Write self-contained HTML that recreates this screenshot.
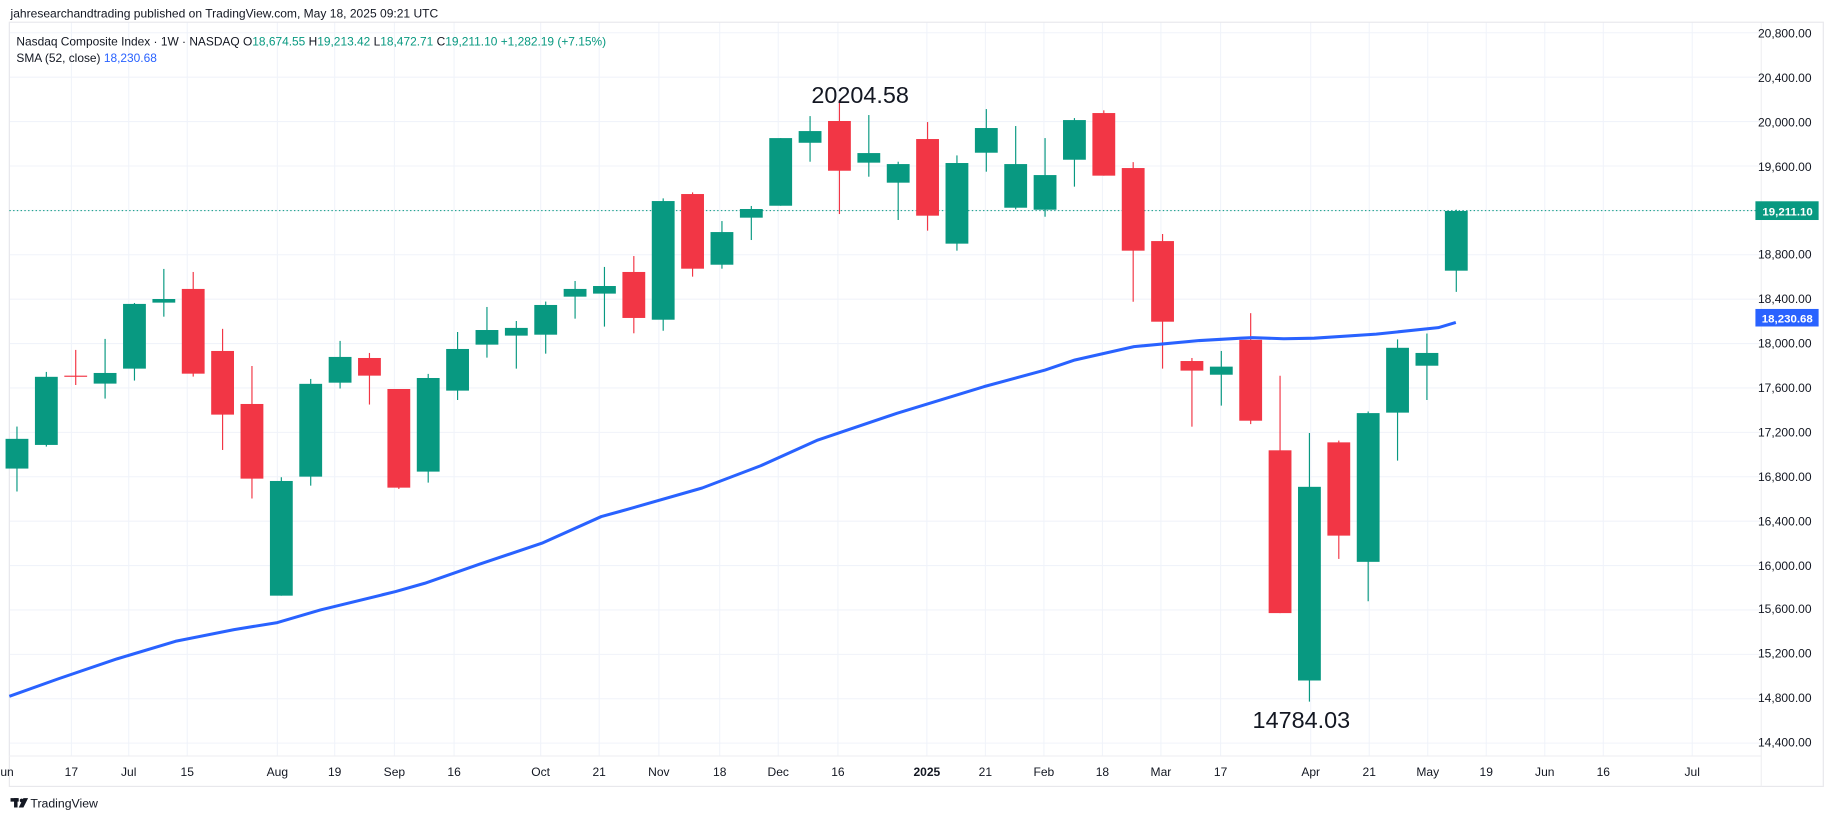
<!DOCTYPE html>
<html><head><meta charset="utf-8"><style>
html,body{margin:0;padding:0;background:#fff;}
svg{display:block;font-family:"Liberation Sans","DejaVu Sans",sans-serif;}
</style></head><body>
<svg id="s" width="1835" height="820" viewBox="0 0 1568 700.7" preserveAspectRatio="none" xmlns="http://www.w3.org/2000/svg">
<rect x="0" y="0" width="1568" height="701" fill="#fff"/>
<g id="grid" stroke="#f0f3fa" stroke-width="0.9"></g>
<rect x="8" y="19" width="1550" height="653" fill="none" stroke="#e8e8ec" stroke-width="1"/>
<line x1="1505" y1="19" x2="1505" y2="672" stroke="#f0f0f3" stroke-width="1"/>
<line x1="8" y1="646" x2="1505" y2="646" stroke="#f0f0f3" stroke-width="1"/>
<line x1="8" y1="180" x2="1505" y2="180" stroke="#089981" stroke-width="0.9" stroke-dasharray="1.2,2"/>
<g id="candles"></g>
<polyline fill="none" stroke="#2962ff" stroke-width="2.6" stroke-linejoin="round" points="8,595 50,580 100,563 150,548 200,538 237,532 273.8,521.2 338,505.5 363,498.4 410,482 463,464.2 513.8,441.4 530,437 600,417 650,398 698.8,376 766.4,353.2 840.8,330.4 893,316.2 918.5,307.6 969,296.2 1025,291 1060,289 1070,288.5 1097,289.5 1123,289 1176,285.5 1229,280 1244,275.5"/>
<g font-size="10.3" fill="#131722" text-anchor="end">
<text x="1548" y="32">20,800.00</text><text x="1548" y="70">20,400.00</text><text x="1548" y="108">20,000.00</text><text x="1548" y="146">19,600.00</text><text x="1548" y="221">18,800.00</text><text x="1548" y="259">18,400.00</text><text x="1548" y="297">18,000.00</text><text x="1548" y="335">17,600.00</text><text x="1548" y="373">17,200.00</text><text x="1548" y="411">16,800.00</text><text x="1548" y="449">16,400.00</text><text x="1548" y="487">16,000.00</text><text x="1548" y="524">15,600.00</text><text x="1548" y="562">15,200.00</text><text x="1548" y="600">14,800.00</text><text x="1548" y="638">14,400.00</text>
</g>
<rect x="1500" y="172" width="54" height="16" fill="#089981"/>
<text x="1549" y="184" font-size="9.8" fill="#fff" text-anchor="end" font-weight="bold">19,211.10</text>
<rect x="1500" y="264" width="54" height="15" fill="#2962ff"/>
<text x="1549" y="275.5" font-size="9.8" fill="#fff" text-anchor="end" font-weight="bold">18,230.68</text>
<g font-size="10.3" fill="#131722" text-anchor="middle">
<text x="6" y="663">un</text><text x="61" y="663">17</text><text x="110" y="663">Jul</text><text x="160" y="663">15</text><text x="237" y="663">Aug</text><text x="286" y="663">19</text><text x="337" y="663">Sep</text><text x="388" y="663">16</text><text x="462" y="663">Oct</text><text x="512" y="663">21</text><text x="563" y="663">Nov</text><text x="615" y="663">18</text><text x="665" y="663">Dec</text><text x="716" y="663">16</text><text x="792" y="663" font-weight="bold">2025</text><text x="842" y="663">21</text><text x="892" y="663">Feb</text><text x="942" y="663">18</text><text x="992" y="663">Mar</text><text x="1043" y="663">17</text><text x="1120" y="663">Apr</text><text x="1170" y="663">21</text><text x="1220" y="663">May</text><text x="1270" y="663">19</text><text x="1320" y="663">Jun</text><text x="1370" y="663">16</text><text x="1446" y="663">Jul</text>
</g>
<text x="9" y="15" font-size="10.3" fill="#131722">jahresearchandtrading published on TradingView.com, May 18, 2025 09:21 UTC</text>
<text x="14" y="39" font-size="10.2" fill="#131722">Nasdaq Composite Index · 1W · NASDAQ  O<tspan fill="#089981">18,674.55</tspan>  H<tspan fill="#089981">19,213.42</tspan>  L<tspan fill="#089981">18,472.71</tspan>  C<tspan fill="#089981">19,211.10  +1,282.19 (+7.15%)</tspan></text>
<text x="14" y="53" font-size="10.2" fill="#131722">SMA (52, close)  <tspan fill="#2962ff">18,230.68</tspan></text>
<text x="735" y="88" font-size="20" fill="#131722" text-anchor="middle">20204.58</text>
<text x="1112" y="622" font-size="20" fill="#131722" text-anchor="middle">14784.03</text>
<g fill="#131722"><rect x="9" y="682" width="7" height="3"/><rect x="12" y="682" width="3" height="8"/><circle cx="18.5" cy="684" r="1.6"/><polygon points="20,682 24,682 20,690 16,690"/></g>
<text x="26" y="690" font-size="10.5" fill="#131722">TradingView</text>
</svg>
<script>
var d=[["g",364.5,420,375,400.4],["g",317.8,381.6,322,380.2],["r",299,329,321,322],["g",289.6,340.6,318.7,327.8],["g",258.9,325.2,259.7,315],["g",229.8,270.6,255.5,258.6],["r",232.4,321.8,246.9,319.3],["r",281,384.5,299.9,354.3],["r",312.7,426,345.2,409],["g",407.8,509,411,509],["g",323.8,415,328,407.3],["g",291.3,332,305,327],["r",301.6,345.7,305.9,321],["r",332.4,417.8,332.4,416.7],["g",319.5,412.4,323,403],["g",283.7,341.8,298.2,333.8],["g",262.3,305.6,282,294.5],["g",274.3,315,280.2,286.8],["g",257.7,302.2,260.6,286],["g",240.1,272.3,246.9,253.5],["g",228.1,279.1,244.4,250.9],["r",218.8,284.8,232.4,271.7],["g",169.5,282.6,171.8,273.2],["r",164.4,236.4,165.8,229.6],["g",188.9,229.6,198.3,226.2],["g",176,205.1,178.6,186],["g",118,175.8,118,175.8],["g",99.2,138.2,112,122],["r",85.5,182.9,103.4,145.9],["g",98.3,151,130.8,139],["g",138.2,188,140.2,156.1],["r",104.3,197.1,118.8,184.3],["g",132.8,214.2,139.3,208.2],["g",93.2,146.7,109.4,130.5],["g",107.7,178.9,140.2,177.5],["g",118,185.2,149.6,179.2],["g",100.9,159.5,102.6,136.5],["r",94.3,150.1,96.6,150.1],["r",138.5,257.8,143.6,214.2],["r",200,315,206,274.9],["r",305.9,364.6,308.5,316.7],["g",299.9,346.6,313.3,320.2],["r",267.6,362.4,290.4,359.5],["r",321.1,523.9,384.8,523.9],["g",370,599.6,416,581.5],["r",376.5,477.6,378,457.7],["g",351.6,513.8,353,480.1],["g",290,393.6,297.2,352.6],["g",285,341.8,301.6,312.5],["g",179.2,249.4,180.3,231.3]];
var h="";
d.forEach(function(c,i){var x=14.5+i*25.1,col=c[0]=="g"?"#089981":"#f23645";var bh=Math.max(c[4]-c[3],1);
h+='<line x1="'+x+'" x2="'+x+'" y1="'+c[1]+'" y2="'+c[2]+'" stroke="'+col+'" stroke-width="1"/>';
h+='<rect x="'+(x-9.75)+'" y="'+c[3]+'" width="19.5" height="'+bh+'" fill="'+col+'"/>';});
document.getElementById("candles").innerHTML=h;
var g="";for(var k=0;k<17;k++){var y=28+k*37.94;g+='<line x1="8" x2="1505" y1="'+y+'" y2="'+y+'"/>';}
[8,61,110,160,237,286,337,388,462,512,563,615,665,716,792,842,892,942,992,1043,1120,1170,1220,1270,1320,1370,1446].forEach(function(x){g+='<line x1="'+x+'" x2="'+x+'" y1="19" y2="646"/>';});
document.getElementById("grid").innerHTML=g;
</script>
</body></html>
